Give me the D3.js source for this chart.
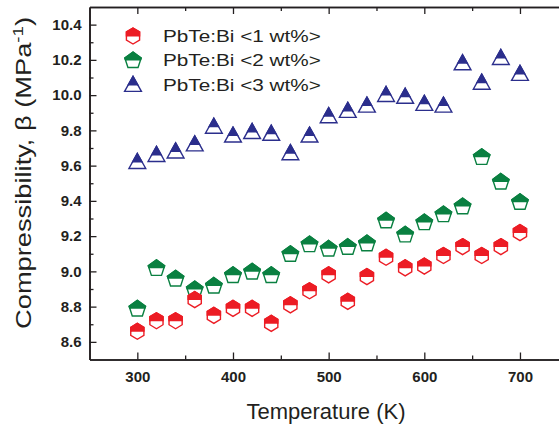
<!DOCTYPE html>
<head>
    <script src="https://d3js.org/d3.v7.min.js"></script>
</head>
<style>
body {
  margin: 0;
  font-family: Arial, "Liberation Sans", Helvetica, sans-serif;
}
</style>
<body>
    <svg></svg>
</body>

<script>
    // data
    var temps = [300, 320, 340, 360, 380, 400, 420, 440, 460, 480, 500,
                 520, 540, 560, 580, 600, 620, 640, 660, 680, 700];
    var bi1 = [8.66, 8.72, 8.72, 8.84, 8.75, 8.79, 8.79, 8.705, 8.81, 8.89, 8.98,
               8.83, 8.97, 9.08, 9.02, 9.03, 9.09, 9.14, 9.09, 9.14, 9.22];
    var bi2 = [8.79, 9.02, 8.96, 8.90, 8.92, 8.98, 9.00, 8.98, 9.10, 9.155, 9.13,
               9.14, 9.16, 9.29, 9.21, 9.28, 9.325, 9.37, 9.65, 9.51, 9.395];
    var bi3 = [9.62, 9.66, 9.68, 9.72, 9.82, 9.77, 9.79, 9.78, 9.67, 9.77, 9.88,
               9.91, 9.94, 10.00, 9.99, 9.95, 9.94, 10.18, 10.07, 10.21, 10.12];
    var seriesNames = ["PbTe:Bi <1 wt%>", "PbTe:Bi <2 wt%>", "PbTe:Bi <3 wt%>"];
    var seriesColors = ["#ec1c24", "#0a8041", "#2b2e8c"];
    var seriesShapes = ["hex", "pent", "tri"];
    var yTicks = [8.6, 8.8, 9.0, 9.2, 9.4, 9.6, 9.8, 10.0, 10.2, 10.4];
    var xTicks = [300, 400, 500, 600, 700];

    var width = 559, height = 427;
    var axisColor = "#231f20";

    var svg = d3.select("svg").attr("width", width).attr("height", height);

    var x = d3.scaleLinear().domain([250, 750]).range([89.5, 567.8]);
    var y = d3.scaleLinear().domain([8.5, 10.5]).range([359.5, 7]);

    // shapes, centred at 0,0
    function shapePath(kind) {
        var pts = [];
        if (kind === "hex") {
            for (var i = 0; i < 6; i++) {
                var a = (-90 + 60 * i) * Math.PI / 180;
                pts.push([7.6 * Math.cos(a), 8 * Math.sin(a)]);
            }
        } else if (kind === "pent") {
            for (var j = 0; j < 5; j++) {
                var b = (-90 + 72 * j) * Math.PI / 180;
                pts.push([8.6 * Math.cos(b), 8.6 * Math.sin(b) + 0.6]);
            }
        } else {
            pts = [[0, -8.6], [8.4, 6.4], [-8.4, 6.4]];
        }
        return "M" + pts.map(function (p) { return p.join(","); }).join("L") + "Z";
    }

    var defs = svg.append("defs");
    defs.append("clipPath").attr("id", "topHalf")
        .append("rect").attr("x", -12).attr("y", -12).attr("width", 24).attr("height", 12.4);

    function drawMarker(sel, kind, color) {
        sel.append("path").attr("d", shapePath(kind))
            .attr("fill", "#fff").attr("stroke", color).attr("stroke-width", 1.4);
        sel.append("path").attr("d", shapePath(kind))
            .attr("fill", color).attr("stroke", color).attr("stroke-width", 1.4)
            .attr("clip-path", "url(#topHalf)");
    }

    // axes
    var gx = svg.append("g").attr("transform", "translate(0," + y.range()[0] + ")");
    gx.call(d3.axisBottom(x).tickValues(xTicks).tickSizeInner(-7).tickSizeOuter(0)
        .tickPadding(12).tickFormat(d3.format("d")));
    var gxm = svg.append("g").attr("transform", "translate(0," + y.range()[0] + ")");
    gxm.call(d3.axisBottom(x).tickValues([350, 450, 550, 650]).tickSizeInner(-4)
        .tickSizeOuter(0).tickFormat(""));

    var gt = svg.append("g").attr("transform", "translate(0," + y.range()[1] + ")");
    gt.call(d3.axisTop(x).tickValues(xTicks).tickSizeInner(-7).tickSizeOuter(0).tickFormat(""));
    var gtm = svg.append("g").attr("transform", "translate(0," + y.range()[1] + ")");
    gtm.call(d3.axisTop(x).tickValues([350, 450, 550, 650]).tickSizeInner(-4)
        .tickSizeOuter(0).tickFormat(""));

    var gy = svg.append("g").attr("transform", "translate(" + x.range()[0] + ",0)");
    gy.call(d3.axisLeft(y).tickValues(yTicks).tickSizeInner(-7).tickSizeOuter(0)
        .tickPadding(8).tickFormat(d3.format(".1f")));
    var gym = svg.append("g").attr("transform", "translate(" + x.range()[0] + ",0)");
    gym.call(d3.axisLeft(y).tickValues([8.7, 8.9, 9.1, 9.3, 9.5, 9.7, 9.9, 10.1, 10.3])
        .tickSizeInner(-4).tickSizeOuter(0).tickFormat(""));

    svg.selectAll(".domain").attr("stroke", axisColor).attr("stroke-width", 1.6);
    svg.selectAll(".tick line").attr("stroke", axisColor).attr("stroke-width", 1.3);
    svg.selectAll(".tick text")
        .attr("fill", axisColor)
        .style("font-family", "Arial, 'Liberation Sans', sans-serif")
        .style("font-size", "15px")
        .style("font-weight", "bold");

    // axis titles
    svg.append("text")
        .attr("x", 326).attr("y", 419)
        .attr("text-anchor", "middle")
        .attr("fill", axisColor)
        .style("font-size", "22px")
        .text("Temperature (K)");

    var yt = svg.append("text")
        .attr("transform", "translate(31,173) rotate(-90) scale(1.24,1)")
        .attr("text-anchor", "middle")
        .attr("fill", axisColor)
        .style("font-size", "22px");
    yt.append("tspan").text("Compressibility, \u03B2 (MPa");
    yt.append("tspan").attr("dy", -8).style("font-size", "15px").text("-1");
    yt.append("tspan").attr("dy", 8).text(")");

    // points, red drawn last
    [2, 1, 0].forEach(function (k) {
        var vals = [bi1, bi2, bi3][k];
        var pts = temps.map(function (t, i) { return {t: t, v: vals[i]}; });
        svg.append("g").selectAll("g")
            .data(pts)
            .enter().append("g")
            .attr("transform", function (d) { return "translate(" + x(d.t) + "," + y(d.v) + ")"; })
            .each(function () { drawMarker(d3.select(this), seriesShapes[k], seriesColors[k]); });
    });

    // legend
    var leg = svg.append("g");
    var legY = [36, 60, 85];
    seriesNames.forEach(function (name, k) {
        var row = leg.append("g").attr("transform", "translate(133," + legY[k] + ")");
        drawMarker(row, seriesShapes[k], seriesColors[k]);
        row.append("text")
            .attr("transform", "translate(30,6) scale(1.22,1)")
            .attr("fill", axisColor)
            .style("font-size", "17px")
            .text(name);
    });
</script>
